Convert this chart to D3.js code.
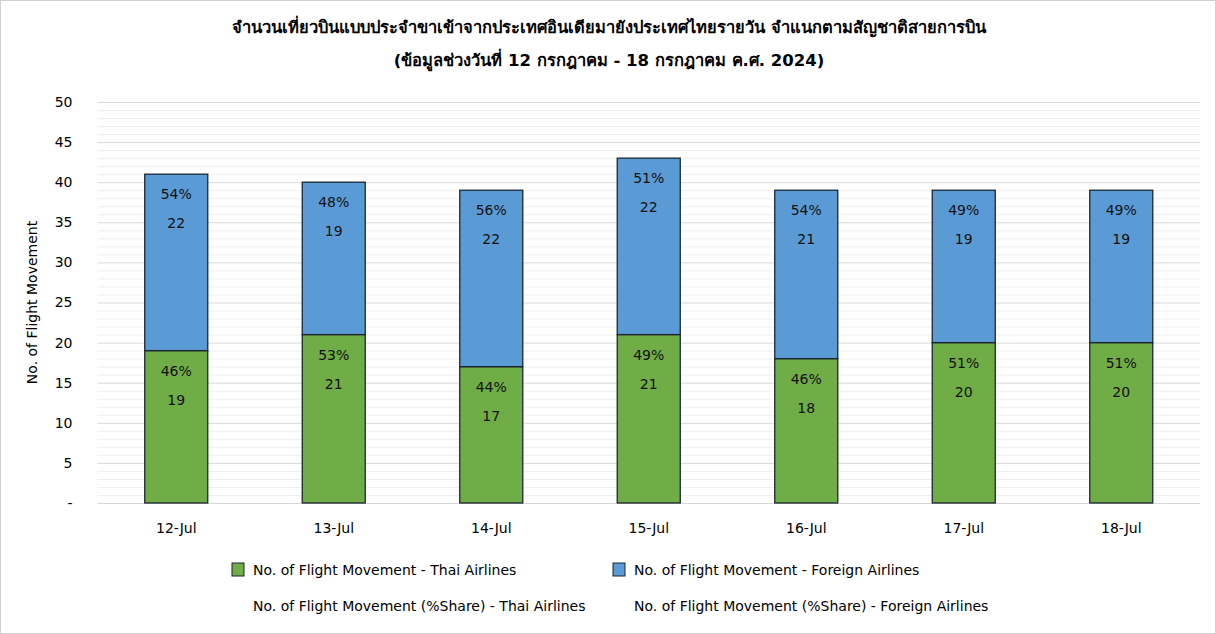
<!DOCTYPE html>
<html><head><meta charset="utf-8">
<script src="https://cdn.jsdelivr.net/npm/d3@7"></script>
<style>
body{margin:0;background:#fff;}
svg{display:block;font-family:Tahoma,"DejaVu Sans","Noto Sans",sans-serif;}
</style></head>
<body><svg id="c" width="1216" height="634"></svg>
<script>
const categories = ["12-Jul","13-Jul","14-Jul","15-Jul","16-Jul","17-Jul","18-Jul"];
const thaiFlights = [19,21,17,21,18,20,20];
const foreignFlights = [22,19,22,22,21,19,19];
const thaiShare = ["46%","53%","44%","49%","46%","51%","51%"];
const foreignShare = ["54%","48%","56%","51%","54%","49%","49%"];
const yTicks = [0,5,10,15,20,25,30,35,40,45,50];
const titleLines = ["จำนวนเที่ยวบินแบบประจำขาเข้าจากประเทศอินเดียมายังประเทศไทยรายวัน  จำแนกตามสัญชาติสายการบิน","(ข้อมูลช่วงวันที่ 12 กรกฎาคม - 18 กรกฎาคม ค.ศ. 2024)"];
const seriesNames = ["No. of Flight Movement - Thai Airlines","No. of Flight Movement - Foreign Airlines"];
const shareNames = ["No. of Flight Movement (%Share) - Thai Airlines","No. of Flight Movement (%Share) - Foreign Airlines"];
const colors = ["#70AD47","#5B9BD5"];

(function(){
const svg = d3.select("#c");
svg.append("rect").attr("x",0.5).attr("y",0.5).attr("width",1215).attr("height",633)
  .attr("fill","#fff").attr("stroke","#d0d0d0");

const pl=97.5, pr=1200, pt=102, pb=503;
const x = d3.scaleBand().domain(categories).range([pl,pr]).paddingInner(0.6).paddingOuter(0.3);
const y = d3.scaleLinear().domain([0,50]).range([pb,pt]);

svg.append("g").selectAll("line").data(d3.range(0,51,1).filter(v=>v%5!==0)).join("line")
  .attr("x1",pl).attr("x2",pr).attr("y1",d=>y(d)+0.5).attr("y2",d=>y(d)+0.5)
  .attr("stroke","#efefef").attr("stroke-width",1);
svg.append("g").selectAll("line").data(yTicks).join("line")
  .attr("x1",pl).attr("x2",pr).attr("y1",d=>y(d)+0.5).attr("y2",d=>y(d)+0.5)
  .attr("stroke","#d9d9d9").attr("stroke-width",1);

const yAxis = d3.axisLeft(y).tickValues(yTicks).tickSize(0).tickPadding(0)
  .tickFormat(d=>d===0?"-":d);
const ya = svg.append("g").attr("transform",`translate(${pl-25},0)`).call(yAxis);
ya.select(".domain").remove();
ya.selectAll("text").attr("font-size",14).attr("fill","#000").attr("font-family","Tahoma,'DejaVu Sans',sans-serif");

const xAxis = d3.axisBottom(x).tickSize(0).tickPadding(0);
const xa = svg.append("g").attr("transform",`translate(0,${pb+20})`).call(xAxis);
xa.select(".domain").remove();
xa.selectAll("text").attr("font-size",14).attr("fill","#000").attr("font-family","Tahoma,'DejaVu Sans',sans-serif");

const stacked = categories.map((c,i)=>({c,thai:thaiFlights[i],foreign:foreignFlights[i],ts:thaiShare[i],fs:foreignShare[i]}));
const g = svg.append("g");
stacked.forEach(d=>{
  const segs=[{y0:0,y1:d.thai,col:colors[0],pct:d.ts,val:d.thai},{y0:d.thai,y1:d.thai+d.foreign,col:colors[1],pct:d.fs,val:d.foreign}];
  segs.forEach(s=>{
    g.append("rect").attr("x",x(d.c)).attr("y",y(s.y1)).attr("width",x.bandwidth()).attr("height",y(s.y0)-y(s.y1))
      .attr("fill",s.col).attr("stroke","#1b2631").attr("stroke-width",1.3);
    g.append("text").attr("x",x(d.c)+x.bandwidth()/2).attr("y",y(s.y1)+25).attr("text-anchor","middle")
      .attr("font-size",14).attr("fill","#111").text(s.pct);
    g.append("text").attr("x",x(d.c)+x.bandwidth()/2).attr("y",y(s.y1)+54).attr("text-anchor","middle")
      .attr("font-size",14).attr("fill","#111").text(s.val);
  });
});

svg.append("text").attr("transform",`translate(37,${(pt+pb)/2}) rotate(-90)`).attr("text-anchor","middle")
  .attr("font-size",14).attr("fill","#000").text("No. of Flight Movement");

svg.append("g").selectAll("text").data(titleLines).join("text")
  .attr("x",609).attr("y",(d,i)=>33+i*33).attr("text-anchor","middle")
  .attr("font-size",16.5).attr("font-weight","bold").attr("fill","#000").text(d=>d);

const lx=[232,613];
seriesNames.forEach((n,i)=>{
  svg.append("rect").attr("x",lx[i]).attr("y",563).attr("width",12).attr("height",13)
    .attr("fill",colors[i]).attr("stroke","#1b2631").attr("stroke-width",1);
  svg.append("text").attr("x",lx[i]+21).attr("y",575).attr("font-size",14).attr("fill","#000").text(n);
});
shareNames.forEach((n,i)=>{
  svg.append("text").attr("x",lx[i]+21).attr("y",611).attr("font-size",14).attr("fill","#000").text(n);
});
})();
</script></body></html>
